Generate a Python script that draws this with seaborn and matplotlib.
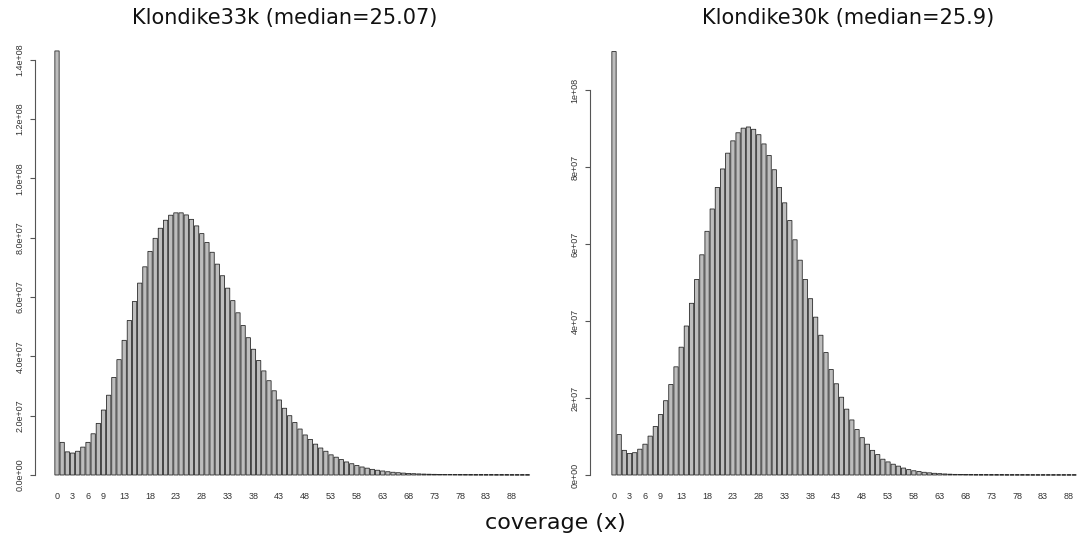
import matplotlib
matplotlib.use("Agg")
import matplotlib.pyplot as plt
import seaborn as sns
import pandas as pd

# ---------------- data (counts in millions of bases) ----------------
counts_33k_m = [
    143, 11.0, 7.8, 7.4, 8.0, 9.4, 11.0, 13.9, 17.4, 21.9,
    26.9, 32.9, 38.9, 45.4, 52.1, 58.5, 64.7, 70.2, 75.4, 79.8,
    83.2, 85.9, 87.6, 88.4, 88.4, 87.7, 86.2, 84.0, 81.4, 78.4,
    75.1, 71.1, 67.2, 63.0, 58.8, 54.7, 50.4, 46.3, 42.4, 38.6,
    35.1, 31.8, 28.4, 25.3, 22.5, 20.0, 17.7, 15.5, 13.5, 12.0,
    10.4, 9.1, 8.0, 6.8, 6.0, 5.2, 4.4, 3.8, 3.2, 2.7,
    2.3, 1.9, 1.6, 1.35, 1.1, 0.92, 0.77, 0.64, 0.53, 0.44,
    0.37, 0.31, 0.26, 0.22, 0.19, 0.16, 0.14, 0.12, 0.10, 0.09,
    0.08, 0.07, 0.07, 0.06, 0.06, 0.05, 0.05, 0.05, 0.04, 0.04,
    0.04, 0.04,
]
counts_30k_m = [
    110, 10.5, 6.4, 5.6, 5.8, 6.7, 8.0, 10.1, 12.6, 15.7,
    19.3, 23.5, 28.1, 33.2, 38.7, 44.6, 50.8, 57.2, 63.3, 69.1,
    74.7, 79.5, 83.6, 86.8, 88.9, 90.1, 90.4, 89.8, 88.4, 86.0,
    83.0, 79.3, 74.7, 70.7, 66.1, 61.1, 55.8, 50.8, 45.8, 41.0,
    36.3, 31.8, 27.4, 23.7, 20.2, 17.1, 14.3, 11.8, 9.7, 8.0,
    6.4, 5.3, 4.1, 3.4, 2.8, 2.3, 1.8, 1.4, 1.1, 0.9,
    0.7, 0.56, 0.44, 0.35, 0.27, 0.21, 0.16, 0.12, 0.09, 0.08,
    0.06, 0.05, 0.05, 0.04, 0.04, 0.04, 0.03, 0.03, 0.03, 0.03,
    0.03, 0.02, 0.02, 0.02, 0.02, 0.02, 0.02, 0.02, 0.02, 0.02,
]
coverage_33k = list(range(len(counts_33k_m)))
coverage_30k = list(range(len(counts_30k_m)))

x_tick_labels = [0, 3, 6, 9, 13, 18, 23, 28, 33, 38, 43, 48, 53, 58, 63, 68, 73, 78, 83, 88]

y_ticks_33k = [0, 2e7, 4e7, 6e7, 8e7, 1e8, 1.2e8, 1.4e8]
y_labels_33k = ["0.0e+00", "2.0e+07", "4.0e+07", "6.0e+07", "8.0e+07", "1.0e+08", "1.2e+08", "1.4e+08"]
y_ticks_30k = [0, 2e7, 4e7, 6e7, 8e7, 1e8]
y_labels_30k = ["0e+00", "2e+07", "4e+07", "6e+07", "8e+07", "1e+08"]

title_33k = "Klondike33k (median=25.07)"
title_30k = "Klondike30k (median=25.9)"
x_label = "coverage (x)"

# ---------------- figure ----------------
sns.set_theme(style="white")
plt.rcParams["font.family"] = ["DejaVu Sans"]

W, H = 1083, 544
fig = plt.figure(figsize=(W / 100, H / 100), dpi=100)
fig.patch.set_facecolor("white")

PX = 5.17  # pixels per bar slot


def panel(left_px, right_px, bar0_px, top_val, counts, coverage, yticks, ylabels, ymax_tick):
    base_px = 475
    top_px = 45
    ax = fig.add_axes([left_px / W, (H - base_px) / H, (right_px - left_px) / W,
                       (base_px - top_px) / H])
    df = pd.DataFrame({"coverage": coverage, "count": [c * 1e6 for c in counts]})
    sns.barplot(data=df, x="coverage", y="count", color="#bdbdbd", saturation=1,
                width=0.83, edgecolor="#2a2a2a", linewidth=0.6, errorbar=None, ax=ax)
    for p in ax.patches:
        p.set_snap(False)
        p.set_clip_on(False)
    ax.set_xlim((left_px - bar0_px) / PX, (right_px - bar0_px) / PX)
    ax.set_ylim(0, top_val)
    ax.set_xticks(x_tick_labels)
    ax.set_xticklabels([str(v) for v in x_tick_labels], fontsize=6.5,
                       family=["Liberation Sans", "DejaVu Sans"], color="#333333")
    ax.tick_params(axis="x", length=0, pad=12)
    ax.set_yticks(yticks)
    ax.set_yticklabels(ylabels, fontsize=6.5, rotation=90, va="center",
                       family=["Liberation Sans", "DejaVu Sans"], color="#333333")
    ax.tick_params(axis="y", length=3.6, width=0.8, color="#555555", pad=4, left=True)
    for s in ["top", "right", "bottom"]:
        ax.spines[s].set_visible(False)
    ax.spines["left"].set_bounds(0, ymax_tick)
    ax.spines["left"].set_color("#555555")
    ax.spines["left"].set_linewidth(0.8)
    ax.set_xlabel("")
    ax.set_ylabel("")
    ax.set_facecolor("none")
    ax.grid(False)
    return ax


panel(35, 535, 57, 1.45e8, counts_33k_m, coverage_33k, y_ticks_33k, y_labels_33k, 1.4e8)
panel(590, 1083, 614, 1.117e8, counts_30k_m, coverage_30k, y_ticks_30k, y_labels_30k, 1e8)

fig.text(285 / W, 1 - 18 / H, title_33k, ha="center", va="center", fontsize=15, color="#111111")
fig.text(848 / W, 1 - 18 / H, title_30k, ha="center", va="center", fontsize=15, color="#111111")
fig.text(555 / W, 1 - 523 / H, x_label, ha="center", va="center", fontsize=16, color="#111111")

fig.savefig("out.png", dpi=100, facecolor="white")
